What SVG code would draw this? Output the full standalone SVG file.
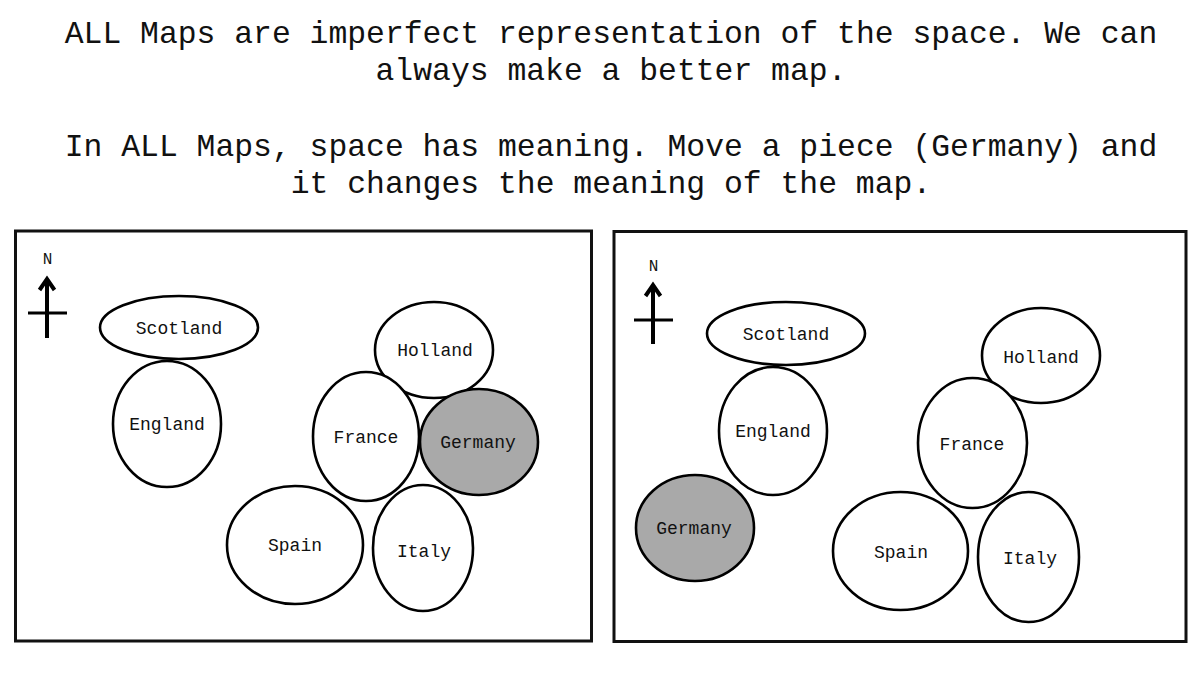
<svg xmlns="http://www.w3.org/2000/svg" width="1200" height="675" viewBox="0 0 1200 675">
<style>
.title{font-family:"Liberation Mono","Courier New",monospace;font-size:31.4px;fill:#111;text-anchor:middle}
.lbl{font-family:"Liberation Mono","Courier New",monospace;font-size:18px;fill:#111;text-anchor:middle}
.n{font-family:"Liberation Mono","Courier New",monospace;font-size:16px;fill:#111;text-anchor:middle}
.country{fill:#fff;stroke:#000;stroke-width:2.6}
.moved{fill:#a9a9a9;stroke:#000;stroke-width:2.6}
.frame{fill:#fff;stroke:#111;stroke-width:3}
.arrow{stroke:#000;stroke-width:4;fill:none;stroke-linecap:butt}
.cross{stroke:#000;stroke-width:3}
</style>
<rect width="1200" height="675" fill="#fff"/>
<g id="title">
<text class="title" x="611" y="43">ALL Maps are imperfect representation of the space. We can</text>
<text class="title" x="611" y="80">always make a better map.</text>
<text class="title" x="611" y="156">In ALL Maps, space has meaning. Move a piece (Germany) and</text>
<text class="title" x="611" y="193">it changes the meaning of the map.</text>
</g>
<g id="map-left">
<rect class="frame" x="15.5" y="231" width="576" height="410"/>
<g id="compass-left">
<text class="n" x="47.5" y="264">N</text>
<line class="arrow" x1="47" y1="280" x2="47" y2="338"/>
<polyline class="arrow" points="39.5,290 47,279 54.5,290"/>
<line class="cross" x1="28" y1="313" x2="67" y2="313"/>
</g>
<g id="l-scotland"><ellipse class="country" cx="179" cy="327.5" rx="79" ry="31.5"/><text class="lbl" x="179" y="334">Scotland</text></g>
<g id="l-england"><ellipse class="country" cx="167" cy="424" rx="54" ry="63"/><text class="lbl" x="167" y="430">England</text></g>
<g id="l-holland"><ellipse class="country" cx="434" cy="350" rx="59" ry="48"/><text class="lbl" x="435" y="356">Holland</text></g>
<g id="l-france"><ellipse class="country" cx="366" cy="436.5" rx="53" ry="64.5"/><text class="lbl" x="366" y="443">France</text></g>
<g id="l-germany"><ellipse class="moved" cx="479" cy="442" rx="59" ry="53"/><text class="lbl" x="478" y="448">Germany</text></g>
<g id="l-spain"><ellipse class="country" cx="295" cy="545" rx="68" ry="59"/><text class="lbl" x="295" y="551">Spain</text></g>
<g id="l-italy"><ellipse class="country" cx="423" cy="548" rx="50" ry="63"/><text class="lbl" x="424" y="557">Italy</text></g>
</g>
<g id="map-right">
<rect class="frame" x="614" y="231.5" width="572" height="410"/>
<g id="compass-right">
<text class="n" x="653.5" y="271">N</text>
<line class="arrow" x1="653" y1="286" x2="653" y2="344"/>
<polyline class="arrow" points="645.5,296 653,285 660.5,296"/>
<line class="cross" x1="634" y1="320" x2="673" y2="320"/>
</g>
<g id="r-scotland"><ellipse class="country" cx="786" cy="333.5" rx="79" ry="31.5"/><text class="lbl" x="786" y="340">Scotland</text></g>
<g id="r-england"><ellipse class="country" cx="773" cy="431" rx="54" ry="64"/><text class="lbl" x="773" y="437">England</text></g>
<g id="r-germany"><ellipse class="moved" cx="695" cy="528" rx="59" ry="53"/><text class="lbl" x="694" y="534">Germany</text></g>
<g id="r-holland"><ellipse class="country" cx="1041" cy="355.5" rx="59" ry="47.5"/><text class="lbl" x="1041" y="363">Holland</text></g>
<g id="r-france"><ellipse class="country" cx="972.5" cy="443" rx="54.5" ry="65"/><text class="lbl" x="972" y="450">France</text></g>
<g id="r-spain"><ellipse class="country" cx="900.5" cy="551" rx="67.5" ry="59"/><text class="lbl" x="901" y="558">Spain</text></g>
<g id="r-italy"><ellipse class="country" cx="1028.5" cy="557" rx="50.5" ry="65"/><text class="lbl" x="1030" y="564">Italy</text></g>
</g>
</svg>
